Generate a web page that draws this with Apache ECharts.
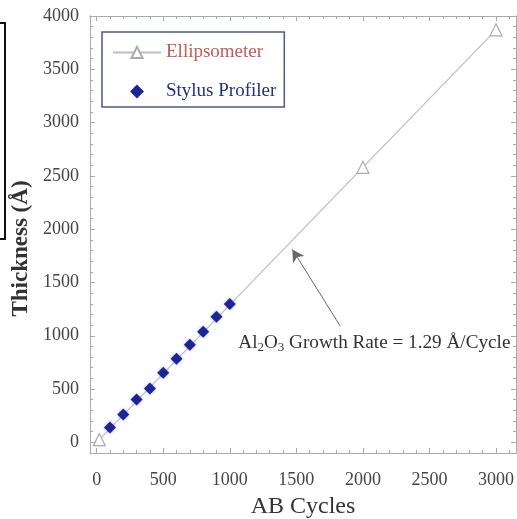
<!DOCTYPE html>
<html>
<head>
<meta charset="utf-8">
<script src="https://cdn.jsdelivr.net/npm/echarts@6/dist/echarts.min.js"></script>
<style>html,body{margin:0;padding:0;background:#fff;}#c{width:517px;height:519px;}</style>
</head>
<body>
<div id="c"></div>
<script>
const stylusX = [100, 200, 300, 400, 500, 600, 700, 800, 900, 1000];
const stylusY = [140, 262, 402, 505, 654, 785, 916, 1037, 1178, 1299];
const ellipX = [20, 2000, 3000];
const ellipY = [25, 2580, 3870];
const xTicks = [0, 500, 1000, 1500, 2000, 2500, 3000];
const yTicks = [0, 500, 1000, 1500, 2000, 2500, 3000, 3500, 4000];
const xMinor = [];
for (let v = 0; v <= 3100; v += 100) xMinor.push(v);
const yMinor = [];
for (let v = 0; v <= 4000; v += 100) yMinor.push(v);

const serif = "'Liberation Serif', 'Times New Roman', serif";
const axisCol = '#aaaaaa';

function mkX(pos, major, labels) {
  return {
    type: 'value', position: pos, min: -50, max: 3150,
    axisLine: { show: true, onZero: false, lineStyle: { color: axisCol, width: 1 } },
    axisTick: { show: true, inside: true, length: major ? 5 : 3, customValues: major ? xTicks : xMinor, lineStyle: { color: axisCol } },
    axisLabel: { show: labels, customValues: xTicks, margin: 18, fontFamily: serif, fontSize: 18, color: '#444', formatter: v => String(v) },
    splitLine: { show: false }
  };
}
function mkY(pos, major, labels) {
  return {
    type: 'value', position: pos, min: -100, max: 4000,
    axisLine: { show: true, onZero: false, lineStyle: { color: axisCol, width: 1 } },
    axisTick: { show: true, inside: true, length: major ? 5 : 3, customValues: major ? yTicks : yMinor, lineStyle: { color: axisCol } },
    axisLabel: { show: labels, customValues: yTicks, margin: 11, fontFamily: serif, fontSize: 18, color: '#444', formatter: v => String(v) },
    splitLine: { show: false }
  };
}

const xAxes = [mkX('bottom', true, true), mkX('bottom', false, false), mkX('top', true, false), mkX('top', false, false)];
xAxes[0].name = 'AB Cycles';
xAxes[0].nameLocation = 'middle';
xAxes[0].nameGap = 42;
xAxes[0].nameTextStyle = { fontFamily: serif, fontSize: 24, color: '#333' };
const yAxes = [mkY('left', true, true), mkY('left', false, false), mkY('right', true, false), mkY('right', false, false)];
yAxes[0].name = 'Thickness (Å)';
yAxes[0].nameLocation = 'middle';
yAxes[0].nameGap = 56;
yAxes[0].nameTextStyle = { fontFamily: serif, fontSize: 23, fontWeight: 'bold', color: '#333', padding: [0, 28, 0, 0] };

const chart = echarts.init(document.getElementById('c'));
chart.setOption({
  animation: false,
  grid: { left: 90, right: 1, top: 16, bottom: 66, outerBoundsMode: 'none', containLabel: false },
  xAxis: xAxes,
  yAxis: yAxes,
  legend: {
    orient: 'vertical', left: 102, top: 32,
    padding: [11, 8, 6, 10],
    backgroundColor: '#fff', borderColor: '#4a5a8a', borderWidth: 1.5,
    itemWidth: 48, itemHeight: 14, itemGap: 20,
    textStyle: { fontFamily: serif, fontSize: 19 },
    data: [
      { name: 'Ellipsometer', textStyle: { color: '#c25a5a' } },
      { name: 'Stylus Profiler', icon: 'path://M0,-5L5,0L0,5L-5,0Z', textStyle: { color: '#25307a' } }
    ]
  },
  graphic: [{
    type: 'polyline', shape: { points: [[0, 23], [5, 23], [5, 239], [0, 239]] },
    style: { stroke: '#111', lineWidth: 2, fill: null }
  }],
  series: [
    {
      name: 'Ellipsometer', type: 'line', xAxisIndex: 0, yAxisIndex: 0,
      data: ellipX.map((x, i) => [x, ellipY[i]]),
      symbol: 'triangle', symbolSize: 12, showSymbol: true,
      lineStyle: { color: '#bdbdbd', width: 1.2 },
      itemStyle: { color: '#fff', borderColor: '#aaaaaa', borderWidth: 1.2 },
      markLine: {
        silent: true, symbol: ['none', 'arrow'], symbolSize: [10, 12],
        lineStyle: { color: '#666', width: 1, type: 'solid' },
        label: { show: false },
        data: [[{ coord: [1830, 1090] }, { coord: [1470, 1810] }]]
      },
      markPoint: {
        silent: true, symbol: 'circle', symbolSize: 1,
        itemStyle: { color: 'rgba(0,0,0,0)' },
        label: {
          show: true, position: 'right', distance: 0,
          formatter: '{a|Al}{s|2}{a|O}{s|3}{a| Growth Rate = 1.29 Å/Cycle}',
          rich: {
            a: { fontFamily: serif, fontSize: 19.2, color: '#333' },
            s: { fontFamily: serif, fontSize: 13, color: '#333', verticalAlign: 'bottom', padding: [9, 0, 0, 0] }
          }
        },
        data: [{ coord: [1060, 930] }]
      },
      z: 2
    },
    {
      name: 'Stylus Profiler', type: 'scatter', xAxisIndex: 0, yAxisIndex: 0,
      data: stylusX.map((x, i) => [x, stylusY[i]]),
      symbol: 'diamond', symbolSize: 12,
      itemStyle: { color: '#1c2596', opacity: 1, shadowColor: 'rgba(80,100,220,0.5)', shadowBlur: 3 },
      z: 3
    }
  ]
});
</script>
</body>
</html>
